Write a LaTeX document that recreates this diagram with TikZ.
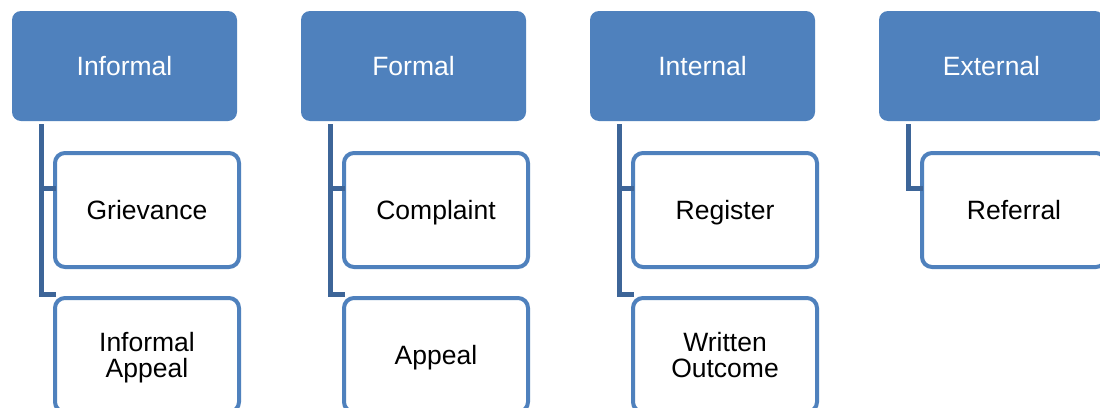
\documentclass[tikz,border=0pt]{standalone}
\usepackage{fontspec}
\setmainfont{Liberation Sans}
\definecolor{boxblue}{HTML}{4F81BD}
\definecolor{connblue}{HTML}{3D6598}
\begin{document}
\begin{tikzpicture}[x=1pt,y=-1pt,
  hdr/.style={rectangle, rounded corners=9pt, fill=boxblue, draw=none,
    minimum width=225pt, minimum height=110pt, inner sep=0pt,
    text height=19pt, text depth=0pt,
    text=white, font=\fontsize{26.5}{26}\selectfont},
  childbase/.style={rectangle, rounded corners=10pt, fill=white, draw=boxblue,
    line width=4pt, minimum width=184pt, minimum height=114pt, inner sep=0pt,
    align=center, font=\fontsize{26.5}{26}\selectfont},
  child/.style={childbase, text height=19pt, text depth=0pt},
  childtwo/.style={childbase, text depth=0pt},
  conn/.style={draw=connblue, line width=5pt, line cap=rect, line join=miter}]
\useasboundingbox (0,0) rectangle (1100,407);
\fill[white] (0,0) rectangle (1100,407);
% headers
\node[hdr] (h1) at (124.5,66) {Informal};
\node[hdr] (h2) at (413.5,66) {Formal};
\node[hdr] (h3) at (702.5,66) {Internal};
\node[hdr] (h4) at (991.5,66) {External};
% children
\node[child] (c1a) at (147,210) {Grievance};
\node[childtwo] (c1b) at (147,355) {Informal\\Appeal};
\node[child] (c2a) at (436,210) {Complaint};
\node[child] (c2b) at (436,355) {Appeal};
\node[child] (c3a) at (725,210) {Register};
\node[childtwo] (c3b) at (725,355) {Written\\Outcome};
\node[child] (c4a) at (1014,210) {Referral};
% connector tops
\coordinate (t1) at (41,126);
\coordinate (t2) at (330,126);
\coordinate (t3) at (619,126);
\coordinate (t4) at (908,126);
\draw[conn] (t1) |- ([yshift=61pt]c1b.west);
\draw[conn] (t1 |- c1a.west) ++(0,-22) -- ([yshift=22pt]c1a.west);
\draw[conn] (t2) |- ([yshift=61pt]c2b.west);
\draw[conn] (t2 |- c2a.west) ++(0,-22) -- ([yshift=22pt]c2a.west);
\draw[conn] (t3) |- ([yshift=61pt]c3b.west);
\draw[conn] (t3 |- c3a.west) ++(0,-22) -- ([yshift=22pt]c3a.west);
\draw[conn] (t4) |- ([yshift=22pt]c4a.west);
\end{tikzpicture}
\end{document}
